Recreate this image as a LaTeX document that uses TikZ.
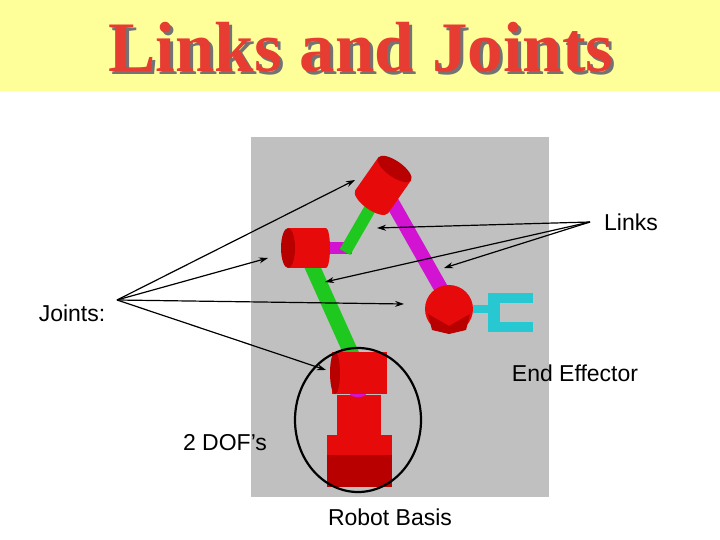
\documentclass[tikz,border=0pt]{standalone}
\usepackage{fontspec}
\setmainfont{Liberation Sans}
\newfontfamily\titlefont{Liberation Serif}
\usetikzlibrary{arrows.meta,shapes.geometric}
\definecolor{band}{RGB}{255,255,153}
\definecolor{ttl}{RGB}{230,60,50}
\definecolor{bg}{RGB}{192,192,192}
\definecolor{rred}{RGB}{230,10,10}
\definecolor{dred}{RGB}{185,0,0}
\definecolor{grn}{RGB}{30,200,30}
\definecolor{mag}{RGB}{210,20,210}
\definecolor{cy}{RGB}{40,200,210}
\begin{document}
\begin{tikzpicture}[x=1pt,y=-1pt,
  lbl/.style={font=\fontsize{23}{25}\selectfont, inner sep=1pt},
  arr/.style={-{Stealth[length=9pt,width=6pt]}, line width=1.2pt},
  link/.style={line width=#1, line cap=butt}]
\useasboundingbox (0,0) rectangle (720,540);
\fill[white] (0,0) rectangle (720,540);
\fill[band] (0,0) rectangle (720,91);
\node[font=\titlefont\bfseries\fontsize{71}{74}\selectfont, text=black!55] at (364,50) {Links and Joints};
\node[font=\titlefont\bfseries\fontsize{71}{74}\selectfont, text=ttl] (title) at (361,47) {Links and Joints};
\fill[bg] (251,137) rectangle (549,497);
% links
\draw[mag, link=12pt] (326,248) -- (352,248);
\draw[grn, link=12pt] (345,252) -- (375,200);
\draw[mag, link=14pt] (388,195) -- (443,292);
\draw[grn, link=15pt] (307,255) -- (352,355);
% top joint (tilted cylinder)
\begin{scope}[rotate around={-35:(382,187)}]
\fill[rred] (362,165) rectangle (402,205);
\fill[rred] (382,205) ellipse (20 and 8);
\fill[dred] (382,165) ellipse (20 and 8);
\end{scope}
% left joint
\fill[rred] (288,228) rectangle (326,268);
\fill[rred] (326,248) ellipse (4 and 20);
\fill[dred] (288,248) ellipse (7 and 20);
% gripper
\fill[cy] (473,305) rectangle (492,313);
\fill[cy] (488,293) rectangle (500,332);
\fill[cy] (495,293) rectangle (533,303);
\fill[cy] (495,322) rectangle (533,332);
% wrist
\fill[rred] (449,309) circle (24);
\fill[dred] (428,314) -- (449,326) -- (470,314) -- (466,330) -- (449,334) -- (432,330) -- cycle;
% base
\fill[rred] (327,435) rectangle (392,487);
\fill[dred] (327,455) rectangle (392,487);
\fill[rred] (337,395) rectangle (381,440);
\fill[mag] (358,394) ellipse (8 and 3);
\fill[rred] (332,352) rectangle (387,394);
\fill[dred] (335,373) ellipse (5 and 21);
\node[draw=black, line width=2.2pt, ellipse, minimum width=126pt, minimum height=144pt] (circ) at (358,420) {};
% labels
\node[lbl] (links) at (631,222) {Links};
\node[lbl] (joints) at (72,313) {Joints:};
\node[lbl] (ee) at (575,373) {End Effector};
\node[lbl] (dof) at (225,443) {2 DOF’s};
\node[lbl] (basis) at (390,517) {Robot Basis};
\coordinate (jo) at (117,300);
\coordinate (lo) at (590,222);
\coordinate (j1) at (355,180);
\coordinate (j2) at (268,258);
\coordinate (j3) at (404,304);
\coordinate (j4) at (326,370);
\coordinate (l1) at (377,228);
\coordinate (l2) at (325,282);
\coordinate (l3) at (444,268);
\foreach \t in {j1,j2,j3,j4} \draw[arr] (jo) -- (\t);
\foreach \t in {l1,l2,l3} \draw[arr] (lo) -- (\t);
\end{tikzpicture}
\end{document}
